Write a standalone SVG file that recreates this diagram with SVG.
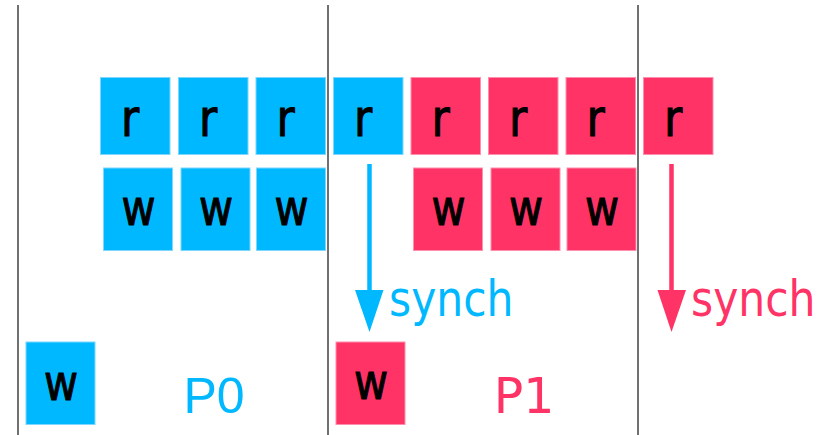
<svg xmlns="http://www.w3.org/2000/svg" width="829" height="435" viewBox="0 0 829 435">
  <style>
    .sep { stroke: #707070; stroke-width: 2; }
    .b { fill: #00b8ff; stroke: #7fd6ff; stroke-width: 1; }
    .p { fill: #ff3366; stroke: #ff8fae; stroke-width: 1; }
    .lbl { font-family: "DejaVu Sans", sans-serif; fill: #000; stroke: #000; stroke-width: 1.1; text-anchor: middle; }
    .r { font-size: 52px; }
    .w { font-size: 49px; }
    .tb { fill: #00b8ff; }
    .tp { fill: #ff3366; }
  </style>

  <!-- phase separators -->
  <g id="separators">
    <line class="sep" x1="18" y1="5" x2="18" y2="435"/>
    <line class="sep" x1="328" y1="5" x2="328" y2="435"/>
    <line class="sep" x1="638" y1="5" x2="638" y2="435"/>
  </g>

  <!-- read row -->
  <g id="r0"><rect class="b" x="100.5" y="77.5" width="69.5" height="77"/><text class="lbl r" transform="translate(130,136) scale(0.85,1)">r</text></g>
  <g id="r1"><rect class="b" x="178.5" y="77.5" width="69.5" height="77"/><text class="lbl r" transform="translate(208,136) scale(0.85,1)">r</text></g>
  <g id="r2"><rect class="b" x="256" y="77.5" width="69.5" height="77"/><text class="lbl r" transform="translate(285.5,136) scale(0.85,1)">r</text></g>
  <g id="r3"><rect class="b" x="333.5" y="77.5" width="69.5" height="77"/><text class="lbl r" transform="translate(363,136) scale(0.85,1)">r</text></g>
  <g id="r4"><rect class="p" x="411" y="77.5" width="69.5" height="77"/><text class="lbl r" transform="translate(440.5,136) scale(0.85,1)">r</text></g>
  <g id="r5"><rect class="p" x="488.5" y="77.5" width="69.5" height="77"/><text class="lbl r" transform="translate(518,136) scale(0.85,1)">r</text></g>
  <g id="r6"><rect class="p" x="566" y="77.5" width="69.5" height="77"/><text class="lbl r" transform="translate(595.5,136) scale(0.85,1)">r</text></g>
  <g id="r7"><rect class="p" x="643.5" y="77.5" width="69.5" height="77"/><text class="lbl r" transform="translate(673,136) scale(0.85,1)">r</text></g>

  <!-- write row -->
  <g id="w0"><rect class="b" x="103.5" y="168" width="69" height="82.5"/><text class="lbl w" transform="translate(138.5,225) scale(0.85,1)">w</text></g>
  <g id="w1"><rect class="b" x="181" y="168" width="69" height="82.5"/><text class="lbl w" transform="translate(216,225) scale(0.85,1)">w</text></g>
  <g id="w2"><rect class="b" x="256.5" y="168" width="69" height="82.5"/><text class="lbl w" transform="translate(291.5,225) scale(0.85,1)">w</text></g>
  <g id="w3"><rect class="p" x="413.5" y="168" width="69" height="82.5"/><text class="lbl w" transform="translate(448.5,225) scale(0.85,1)">w</text></g>
  <g id="w4"><rect class="p" x="491" y="168" width="69" height="82.5"/><text class="lbl w" transform="translate(526,225) scale(0.85,1)">w</text></g>
  <g id="w5"><rect class="p" x="567" y="168" width="69" height="82.5"/><text class="lbl w" transform="translate(602,225) scale(0.85,1)">w</text></g>

  <!-- final writes -->
  <g id="wf0"><rect class="b" x="26" y="342" width="69" height="82.5"/><text class="lbl w" transform="translate(61,400) scale(0.85,1)">w</text></g>
  <g id="wf1"><rect class="p" x="336" y="342" width="69" height="82.5"/><text class="lbl w" transform="translate(371,399) scale(0.85,1)">w</text></g>

  <!-- process labels -->
  <g id="p0"><text x="214" y="413" font-family="Liberation Sans, sans-serif" font-size="50" class="tb" text-anchor="middle">P0</text></g>
  <g id="p1"><text x="524" y="413" font-family="DejaVu Sans, sans-serif" font-size="49" class="tp" text-anchor="middle">P1</text></g>

  <!-- synch connectors -->
  <g id="connectors">
    <line x1="369.5" y1="164" x2="369.5" y2="292" stroke="#00b8ff" stroke-width="4.5"/>
    <path d="M355,290 L383.5,290 L369.5,332 Z" fill="#00b8ff"/>
    <line x1="671.5" y1="164" x2="671.5" y2="292" stroke="#ff3366" stroke-width="4.5"/>
    <path d="M657.5,290 L686,290 L671.5,332 Z" fill="#ff3366"/>
    <text class="tb" font-family="DejaVu Sans, sans-serif" font-size="50" transform="translate(389,316) scale(0.85,1)">synch</text>
    <text class="tp" font-family="DejaVu Sans, sans-serif" font-size="50" transform="translate(691,316) scale(0.85,1)">synch</text>
  </g>
</svg>
